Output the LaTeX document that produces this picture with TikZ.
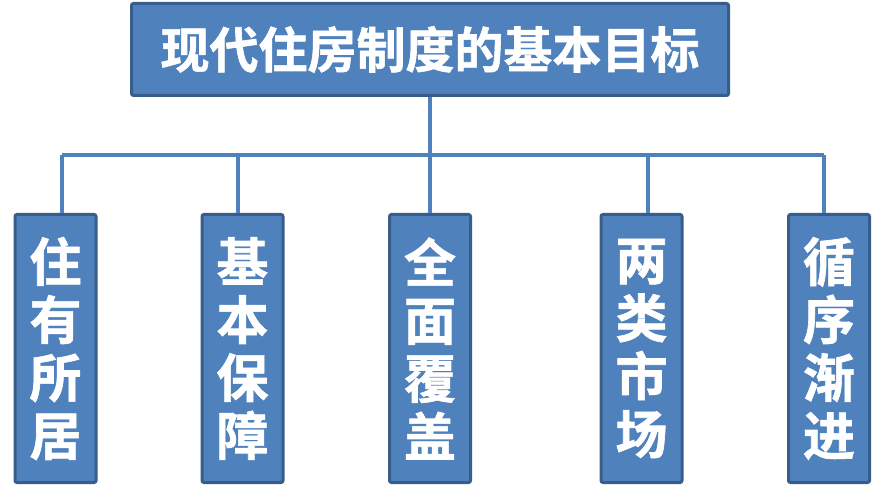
\documentclass[tikz,border=0pt]{standalone}
\usepackage{fontspec}
\newfontfamily\cjkb[BoldFont={Noto Sans CJK SC Bold},BoldFeatures={FakeBold=1.2}]{Noto Sans CJK SC}
\definecolor{boxfill}{HTML}{4F81BD}
\definecolor{boxline}{HTML}{385D8A}
\begin{document}
\begin{tikzpicture}[x=1pt,y=-1pt,
  topbox/.style={draw=boxline,fill=boxfill,line width=3pt,rounded corners=2pt,minimum width=597pt,minimum height=92pt,inner sep=0pt,text=white,font=\cjkb\bfseries\fontsize{49}{52}\selectfont},
  colbox/.style={draw=boxline,fill=boxfill,line width=3pt,rounded corners=2pt,minimum width=81pt,minimum height=268pt,inner sep=0pt,text=white,align=center,font=\cjkb\bfseries\fontsize{52}{58}\selectfont},
  conn/.style={draw=boxfill,line width=4pt}]
\useasboundingbox (0,0) rectangle (885,486);
\node[topbox] (top) at (430,49.5) {现代住房制度的基本目标};
\node[colbox] (b1) at (55.5,348.5) {住\\有\\所\\居};
\node[colbox] (b2) at (242.5,348.5) {基\\本\\保\\障};
\node[colbox] (b3) at (430,348.5) {全\\面\\覆\\盖};
\node[colbox] (b4) at (641.5,348.5) {两\\类\\市\\场};
\node[colbox] (b5) at (829,348.5) {循\\序\\渐\\进};
\coordinate (c1) at (62,155);
\coordinate (c2) at (238,155);
\coordinate (c4) at (648,155);
\coordinate (c5) at (824,155);
\draw[conn] (top.south) -- (b3.north);
\draw[conn] (c1) -- (c5);
\draw[conn] (c1) -- (c1 |- b1.north);
\draw[conn] (c2) -- (c2 |- b2.north);
\draw[conn] (c4) -- (c4 |- b4.north);
\draw[conn] (c5) -- (c5 |- b5.north);
\end{tikzpicture}
\end{document}
